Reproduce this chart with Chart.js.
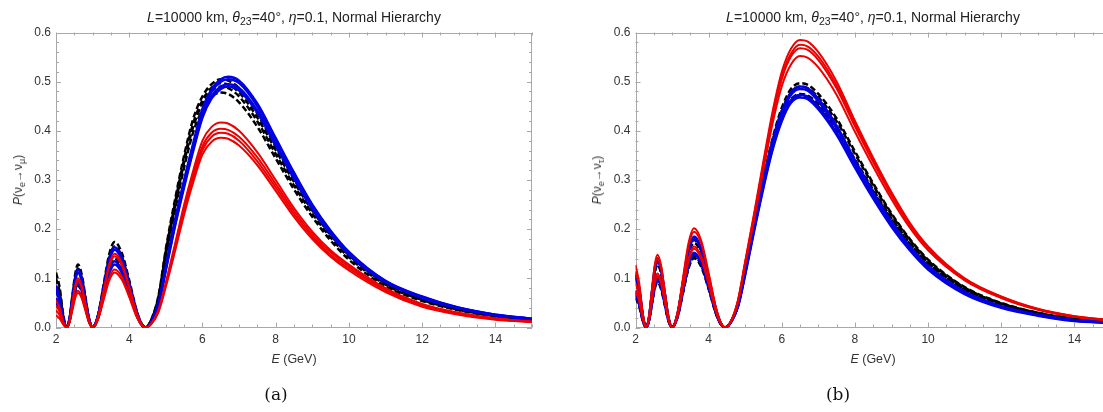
<!DOCTYPE html>
<html>
<head>
<meta charset="utf-8">
<script src="https://cdn.jsdelivr.net/npm/chart.js@4/dist/chart.umd.min.js"></script>
<style>
  body { margin: 0; width: 1103px; height: 412px; overflow: hidden; background: #fff; position: relative; font-family: "Liberation Sans", Arial, sans-serif; }
  canvas { position: absolute; top: 0; }
  .title { position: absolute; top: 9px; font-size: 14px; color: #222; white-space: nowrap; transform: translateX(-50%); }
  .xlab { position: absolute; top: 352px; font-size: 12.5px; color: #333; transform: translateX(-50%); white-space: nowrap; }
  .ylab { position: absolute; font-size: 12px; color: #333; white-space: nowrap; transform: translate(-50%, -50%) rotate(-90deg); top: 180px; }
  .cap { position: absolute; top: 384px; font-family: "DejaVu Serif", "Liberation Serif", serif; font-size: 17px; color: #111; transform: translateX(-50%); }
  sub { font-size: 75%; vertical-align: -3px; line-height: 0; }
</style>
</head>
<body>
<canvas id="chartA" width="560" height="412" style="left:0"></canvas>
<canvas id="chartB" width="560" height="412" style="left:560px"></canvas>

<div class="title" style="left:294px"><i>L</i>=10000 km, <i>θ</i><sub>23</sub>=40°, <i>η</i>=0.1, Normal Hierarchy</div>
<div class="title" style="left:873px"><i>L</i>=10000 km, <i>θ</i><sub>23</sub>=40°, <i>η</i>=0.1, Normal Hierarchy</div>
<div class="xlab" style="left:294px"><i>E</i> (GeV)</div>
<div class="xlab" style="left:873px"><i>E</i> (GeV)</div>
<div class="ylab" style="left:18px"><i>P</i>(ν<sub>e</sub>→ν<sub>μ</sub>)</div>
<div class="ylab" style="left:597px"><i>P</i>(ν<sub>e</sub>→ν<sub>τ</sub>)</div>
<div class="cap" style="left:276px">(a)</div>
<div class="cap" style="left:838px">(b)</div>

<script>
// energy grid (GeV)
const energy = [2.0, 2.1, 2.2, 2.29, 2.37, 2.45, 2.53, 2.6, 2.7, 2.8, 2.9, 3.0,
  3.15, 3.3, 3.45, 3.6, 3.8, 4.0, 4.2, 4.33, 4.45,
  4.6, 4.8, 5.0, 5.25, 5.5, 5.75, 6.0, 6.25, 6.5, 6.7, 7.0, 7.5, 8.0, 8.5, 9.0, 9.5, 10, 11, 12, 13, 14, 15];

const xTicks = [2, 4, 6, 8, 10, 12, 14];
const yTicks = [0, 0.1, 0.2, 0.3, 0.4, 0.5, 0.6];

// (a) P(nu_e -> nu_mu)
const muRed = [
  [.055,.040,.012,0, .015,.052,.087,.100, .085,.050,.015,0, .023,.075,.128,.150, .131,.083,.030,.008,0,
   .008,.036,.092,.170,.250,.320,.380,.408,.417,.415,.400,.356,.300,.243,.195,.157,.128,.080,.048,.030,.019,.012],
  [.045,.032,.010,0, .014,.049,.083,.095, .081,.048,.014,0, .022,.073,.123,.145, .126,.080,.029,.007,0,
   .008,.035,.089,.165,.243,.311,.369,.396,.404,.402,.388,.346,.292,.237,.190,.153,.124,.077,.046,.029,.018,.012],
  [.035,.025,.008,0, .011,.039,.065,.075, .064,.038,.011,0, .018,.059,.100,.118, .103,.065,.024,.006,0,
   .007,.033,.086,.160,.237,.304,.361,.388,.396,.394,.380,.338,.285,.231,.185,.148,.120,.075,.044,.027,.017,.011],
  [.025,.018,.006,0, .011,.036,.061,.070, .060,.035,.011,0, .017,.056,.095,.112, .097,.062,.022,.006,0,
   .007,.032,.083,.155,.230,.296,.352,.378,.386,.384,.370,.330,.278,.225,.180,.144,.116,.072,.042,.026,.016,.011]
];
const muBlue = [
  [.085,.061,.019,0, .018,.061,.103,.118, .100,.059,.018,0, .024,.082,.139,.163, .142,.090,.033,.008,0,
   .012,.050,.125,.218,.300,.375,.445,.485,.505,.510,.502,.455,.385,.315,.250,.197,.154,.095,.063,.040,.026,.018],
  [.075,.054,.017,0, .017,.058,.097,.112, .095,.056,.017,0, .024,.079,.134,.158, .137,.087,.032,.008,0,
   .012,.049,.122,.214,.296,.371,.440,.480,.500,.505,.497,.450,.381,.312,.248,.195,.152,.094,.062,.040,.026,.018],
  [.060,.043,.013,0, .014,.049,.083,.095, .081,.048,.014,0, .020,.068,.115,.135, .117,.074,.027,.007,0,
   .011,.047,.119,.209,.290,.364,.432,.471,.490,.495,.487,.441,.374,.306,.243,.192,.150,.093,.061,.039,.025,.017],
  [.050,.036,.011,0, .013,.046,.077,.088, .075,.044,.013,0, .019,.064,.109,.128, .111,.070,.026,.006,0,
   .011,.046,.117,.206,.286,.360,.427,.466,.485,.490,.482,.437,.370,.303,.241,.190,.148,.092,.060,.039,.025,.017]
];
const muBlack = [
  [.112,.081,.025,0, .019,.067,.111,.128, .109,.064,.019,0, .026,.087,.148,.174, .151,.096,.035,.009,0,
   .016,.065,.160,.260,.350,.425,.470,.495,.505,.502,.487,.435,.368,.302,.243,.192,.150,.092,.060,.039,.025,.017],
  [.100,.072,.022,0, .018,.062,.104,.120, .102,.060,.018,0, .025,.083,.140,.165, .144,.091,.033,.008,0,
   .015,.062,.155,.253,.343,.416,.462,.488,.497,.494,.478,.427,.361,.296,.238,.188,.147,.090,.058,.038,.024,.016],
  [.085,.061,.019,0, .014,.049,.083,.095, .081,.048,.014,0, .021,.070,.119,.140, .122,.077,.028,.007,0,
   .014,.060,.150,.246,.336,.409,.455,.481,.490,.487,.470,.419,.353,.289,.232,.183,.143,.087,.056,.036,.023,.015],
  [.075,.054,.017,0, .013,.044,.074,.085, .072,.043,.013,0, .020,.065,.111,.130, .113,.072,.026,.007,0,
   .013,.057,.145,.238,.326,.398,.443,.469,.478,.475,.458,.408,.344,.281,.225,.177,.138,.084,.054,.035,.022,.015]
];

// (b) P(nu_e -> nu_tau)
const tauRed = [
  [.127,.091,.028,0, .022,.077,.129,.148, .126,.074,.022,0, .030,.101,.172,.202, .176,.111,.040,.010,0,
   .012,.055,.135,.235,.340,.440,.520,.567,.585,.582,.560,.500,.420,.345,.275,.213,.165,.100,.063,.038,.023,.015],
  [.115,.083,.025,0, .021,.073,.122,.140, .119,.070,.021,0, .029,.098,.166,.195, .170,.107,.039,.010,0,
   .012,.054,.133,.231,.334,.433,.511,.557,.575,.572,.551,.492,.414,.340,.271,.210,.163,.099,.062,.037,.023,.015],
  [.090,.065,.020,0, .017,.057,.096,.110, .094,.055,.017,0, .025,.083,.140,.165, .144,.091,.033,.008,0,
   .011,.053,.131,.228,.330,.428,.505,.551,.568,.565,.544,.486,.409,.336,.268,.208,.161,.098,.061,.037,.022,.014],
  [.075,.054,.017,0, .016,.055,.091,.105, .089,.053,.016,0, .024,.080,.136,.160, .139,.088,.032,.008,0,
   .011,.052,.128,.222,.321,.416,.491,.535,.552,.549,.529,.473,.398,.327,.261,.203,.157,.096,.060,.036,.022,.014]
];
const tauBlue = [
  [.112,.081,.025,0, .021,.073,.123,.141, .120,.071,.021,0, .028,.093,.157,.185, .161,.102,.037,.009,0,
   .010,.045,.115,.210,.300,.380,.440,.478,.490,.487,.465,.410,.340,.275,.215,.165,.125,.073,.043,.026,.015,.010],
  [.105,.076,.023,0, .020,.070,.117,.135, .115,.068,.020,0, .027,.090,.153,.180, .157,.099,.036,.009,0,
   .010,.044,.113,.207,.296,.376,.435,.473,.485,.482,.460,.406,.337,.272,.213,.163,.124,.072,.043,.026,.015,.010],
  [.075,.054,.017,0, .015,.052,.087,.100, .085,.050,.015,0, .023,.076,.129,.152, .132,.084,.030,.008,0,
   .010,.043,.110,.202,.289,.367,.425,.462,.473,.470,.449,.396,.329,.266,.208,.160,.121,.070,.042,.025,.014,.009],
  [.065,.047,.014,0, .015,.050,.084,.097, .082,.049,.015,0, .022,.074,.126,.148, .129,.081,.030,.007,0,
   .010,.042,.108,.199,.285,.362,.420,.457,.468,.465,.444,.392,.325,.262,.205,.157,.118,.068,.040,.024,.013,.009]
];
const tauBlack = [
  [.108,.078,.024,0, .020,.070,.117,.134, .114,.067,.020,0, .027,.089,.151,.178, .155,.098,.036,.009,0,
   .011,.048,.120,.215,.305,.385,.447,.485,.497,.494,.475,.425,.358,.293,.232,.180,.138,.082,.050,.030,.018,.012],
  [.100,.072,.022,0, .019,.067,.111,.128, .109,.064,.019,0, .026,.086,.146,.172, .150,.095,.034,.009,0,
   .011,.047,.118,.212,.301,.380,.441,.478,.490,.487,.468,.419,.353,.289,.229,.178,.136,.081,.049,.030,.018,.012],
  [.070,.050,.015,0, .014,.049,.083,.095, .081,.048,.014,0, .022,.073,.123,.145, .126,.080,.029,.007,0,
   .010,.046,.115,.206,.293,.370,.428,.464,.475,.472,.454,.406,.342,.280,.222,.172,.132,.078,.048,.029,.017,.011],
  [.060,.043,.013,0, .014,.048,.080,.092, .078,.046,.014,0, .021,.071,.120,.141, .123,.078,.028,.007,0,
   .010,.045,.113,.204,.290,.366,.423,.459,.470,.467,.449,.402,.338,.277,.220,.170,.130,.077,.047,.028,.017,.011]
];

const RED = "rgb(238,0,0)";
const BLUE = "rgb(0,0,225)";
const BLACK = "#000";

function lines(series, color, width, dash) {
  return series.map(ys => ({
    data: ys.map((y, i) => ({ x: energy[i], y: y })),
    borderColor: color,
    borderWidth: width,
    borderDash: dash,
    pointRadius: 0,
    fill: false,
    cubicInterpolationMode: "monotone"
  }));
}

// frame with inward ticks, Mathematica style
const frameTicks = {
  id: "frameTicks",
  beforeDatasetsDraw(chart) {
    const { ctx, chartArea: a, scales: { x, y } } = chart;
    ctx.save();
    ctx.strokeStyle = "#a8a8a8";
    ctx.lineWidth = 1;
    ctx.strokeRect(Math.round(a.left) + 0.5, Math.round(a.top) + 0.5, Math.round(a.width) - 1, Math.round(a.height) - 1);
    ctx.beginPath();
    for (let k = 0; k <= 26; k++) {
      const v = 2 + k * 0.5;
      const px = Math.round(x.getPixelForValue(v)) + 0.5;
      const len = (k % 4 === 0) ? 5 : 3;
      ctx.moveTo(px, a.bottom); ctx.lineTo(px, a.bottom - len);
      ctx.moveTo(px, a.top); ctx.lineTo(px, a.top + len);
    }
    for (let k = 0; k <= 30; k++) {
      const py = Math.round(y.getPixelForValue(k * 0.02)) + 0.5;
      const len = (k % 5 === 0) ? 5 : 3;
      ctx.moveTo(a.left, py); ctx.lineTo(a.left + len, py);
      ctx.moveTo(a.right, py); ctx.lineTo(a.right - len, py);
    }
    ctx.stroke();
    ctx.restore();
  }
};

function makeChart(id, red, blue, black, yAxisWidth, padRight) {
  return new Chart(document.getElementById(id), {
    type: "line",
    data: {
      datasets: [
        ...lines(red, RED, 2, []),
        ...lines(blue, BLUE, 2.5, []),
        ...lines(black, BLACK, 2.5, [6, 3])
      ]
    },
    options: {
      responsive: false,
      animation: false,
      layout: { padding: { left: 0, right: padRight, top: 32.5, bottom: 44.5 } },
      plugins: { legend: { display: false }, tooltip: { enabled: false } },
      scales: {
        x: {
          type: "linear", min: 2, max: 15,
          grid: { display: false, drawTicks: false },
          border: { display: false },
          afterBuildTicks: s => { s.ticks = xTicks.map(v => ({ value: v })); },
          afterFit: s => { s.height = 40; },
          ticks: { padding: 5, color: "#333", font: { family: "Liberation Sans", size: 12 }, maxRotation: 0 }
        },
        y: {
          min: 0, max: 0.6,
          grid: { display: false, drawTicks: false },
          border: { display: false },
          afterBuildTicks: s => { s.ticks = yTicks.map(v => ({ value: v })); },
          afterFit: s => { s.width = yAxisWidth; },
          ticks: { padding: 5, color: "#333", font: { family: "Liberation Sans", size: 12 }, callback: v => v.toFixed(1) }
        }
      }
    },
    plugins: [frameTicks]
  });
}

makeChart("chartA", muRed, muBlue, muBlack, 56, 28);
makeChart("chartB", tauRed, tauBlue, tauBlack, 75.5, 9);
</script>
</body>
</html>
